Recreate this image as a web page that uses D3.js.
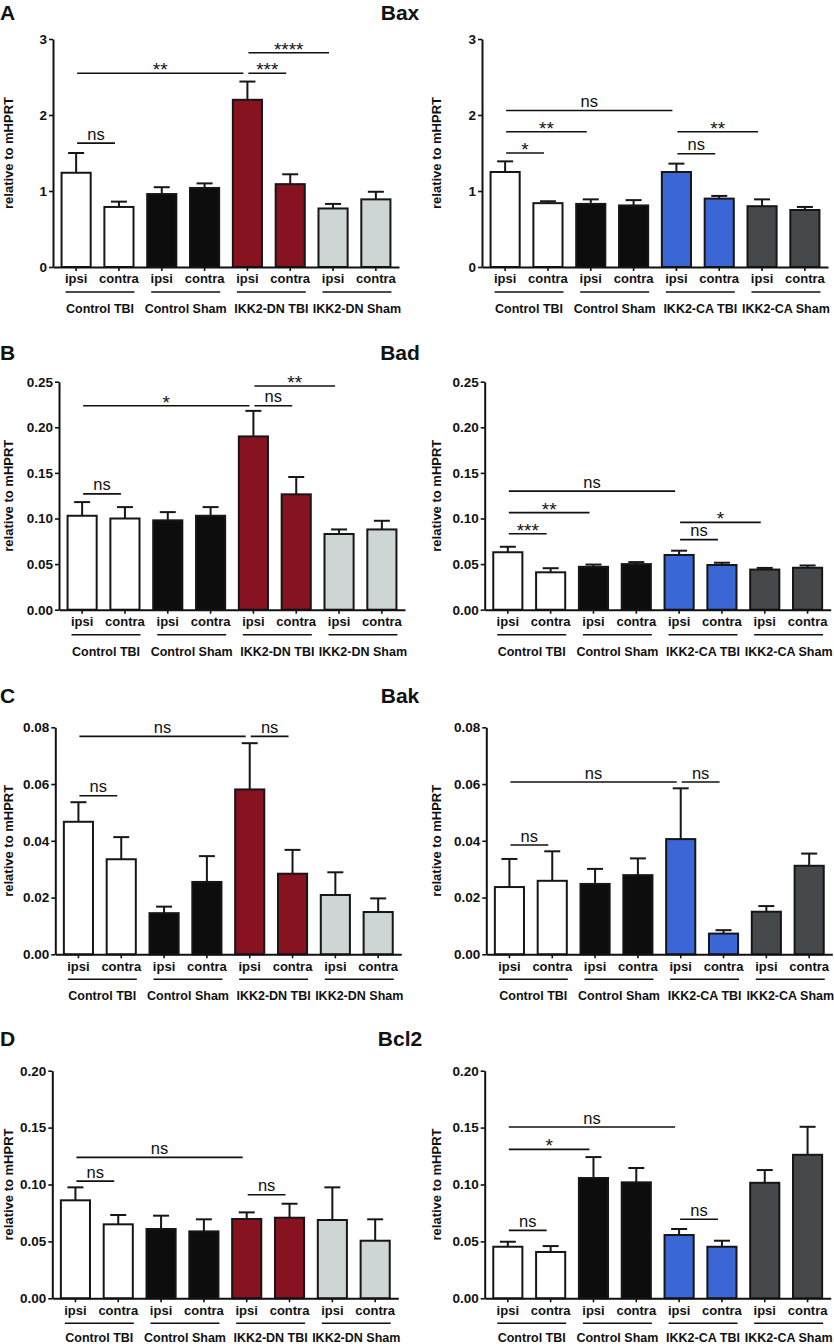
<!DOCTYPE html>
<html>
<head>
<meta charset="utf-8">
<script src="https://cdn.jsdelivr.net/npm/d3@7"></script>
<style>
	body { margin: 0; background: #fff; }
	svg { display: block; font-family: "Liberation Sans", Arial, sans-serif; }
</style>
</head>
<body>
<div id="chart"></div>
<script>
// categories
var conditions = ["ipsi", "contra"];
var groupsDN = ["Control TBI", "Control Sham", "IKK2-DN TBI", "IKK2-DN Sham"];
var groupsCA = ["Control TBI", "Control Sham", "IKK2-CA TBI", "IKK2-CA Sham"];
var colorsDN = ["#ffffff", "#0d0d0d", "#86131f", "#ced5d5"];
var colorsCA = ["#ffffff", "#0d0d0d", "#3b66d6", "#45494b"];

var genes = ["Bax", "Bad", "Bak", "Bcl2"];
var panelLetters = ["A", "B", "C", "D"];

// y axis ticks per gene
var baxTicks = [0, 1, 2, 3];
var badTicks = [0, 0.05, 0.10, 0.15, 0.20, 0.25];
var bakTicks = [0, 0.02, 0.04, 0.06, 0.08];
var bcl2Ticks = [0, 0.05, 0.10, 0.15, 0.20];

// means (order: ipsi, contra for each group) and SEM
var baxDN = [1.24, 0.79, 0.96, 1.04, 2.20, 1.09, 0.77, 0.89];
var baxDNErr = [0.26, 0.07, 0.09, 0.06, 0.24, 0.13, 0.06, 0.10];
var baxCA = [1.25, 0.84, 0.83, 0.81, 1.25, 0.90, 0.80, 0.75];
var baxCAErr = [0.14, 0.025, 0.06, 0.07, 0.11, 0.035, 0.09, 0.04];

var badDN = [0.103, 0.100, 0.098, 0.103, 0.190, 0.1265, 0.083, 0.088];
var badDNErr = [0.015, 0.0125, 0.009, 0.0095, 0.028, 0.019, 0.005, 0.0095];
var badCA = [0.063, 0.041, 0.047, 0.050, 0.060, 0.049, 0.044, 0.046];
var badCAErr = [0.006, 0.0045, 0.0025, 0.0022, 0.0047, 0.0025, 0.0018, 0.0025];

var bakDN = [0.0467, 0.0335, 0.0145, 0.0255, 0.0581, 0.0284, 0.0209, 0.0149];
var bakDNErr = [0.0069, 0.0078, 0.0023, 0.0091, 0.0163, 0.0084, 0.0080, 0.0048];
var bakCA = [0.0237, 0.0259, 0.0248, 0.0279, 0.0406, 0.0073, 0.0150, 0.0312];
var bakCAErr = [0.0099, 0.0104, 0.0053, 0.0059, 0.0179, 0.0012, 0.0020, 0.0043];

var bcl2DN = [0.0861, 0.0650, 0.0609, 0.0588, 0.0697, 0.0708, 0.0688, 0.0506];
var bcl2DNErr = [0.0114, 0.0082, 0.0117, 0.0106, 0.0058, 0.0123, 0.0287, 0.0188];
var bcl2CA = [0.0453, 0.0407, 0.1057, 0.1019, 0.0556, 0.0453, 0.1015, 0.1261];
var bcl2CAErr = [0.0044, 0.0052, 0.0184, 0.0126, 0.0053, 0.0053, 0.0112, 0.0246];

// significance bars: [from bar, to bar, label, height in data units]
var baxDNSig = [[0, 1, "ns", 1.63], [0, 4, "**", 2.55], [4, 5, "***", 2.55], [4, 6, "****", 2.82]];
var baxCASig = [[0, 4, "ns", 2.06], [0, 2, "**", 1.78], [0, 1, "*", 1.50], [4, 5, "ns", 1.49], [4, 6, "**", 1.78]];
var badDNSig = [[0, 1, "ns", 0.127], [0, 4, "*", 0.2237], [4, 5, "ns", 0.2237], [4, 6, "**", 0.2453]];
var badCASig = [[0, 4, "ns", 0.130], [0, 2, "**", 0.1064], [0, 1, "***", 0.0833], [4, 5, "ns", 0.0768], [4, 6, "*", 0.0958]];
var bakDNSig = [[0, 1, "ns", 0.0559], [0, 4, "ns", 0.0768], [4, 5, "ns", 0.0768]];
var bakCASig = [[0, 4, "ns", 0.0607], [4, 5, "ns", 0.0607], [0, 1, "ns", 0.0385]];
var bcl2DNSig = [[0, 1, "ns", 0.103], [0, 4, "ns", 0.1238], [4, 5, "ns", 0.091]];
var bcl2CASig = [[0, 4, "ns", 0.1505], [0, 2, "*", 0.1309], [0, 1, "ns", 0.0597], [4, 5, "ns", 0.0694]];

var width = 834, height = 1344;

/**
 * layout of the 4 x 2 grid
 **/
var rowTop = [39, 381.7, 727.3, 1070.7];
var rowZero = [267, 609.7, 954.3, 1298.3];
var titleBase = [20, 360, 703, 1046];
var axisLeftX = [[53, 482], [59, 484.7], [55.3, 486.3], [52.3, 484.7]];
var plotWidth = 346;

var svg = d3.select("#chart").append("svg")
	.attr("width", width)
	.attr("height", height);

function drawPanel(row, col, values, errs, ticks, fmt, groups, colors, sigs) {
	var ax = axisLeftX[row][col];
	var g = svg.append("g");

	var x = d3.scaleBand()
		.domain(d3.range(values.length))
		.range([ax, ax + plotWidth])
		.paddingInner(0.32)
		.paddingOuter(0.2);

	var y = d3.scaleLinear()
		.domain([0, ticks[ticks.length - 1]])
		.range([rowZero[row], rowTop[row]]);

	// y axis
	var yAxis = g.append("g")
		.attr("transform", "translate(" + ax + ",0)")
		.call(d3.axisLeft(y).tickValues(ticks).tickFormat(d3.format(fmt)).tickSize(4).tickSizeOuter(0).tickPadding(2));
	yAxis.selectAll("text").attr("font-size", 13.5).attr("font-weight", "bold").attr("fill", "#111");

	// y label
	var panelLeft = col === 0 ? 8 : 436;
	g.append("text")
		.attr("transform", "translate(" + panelLeft + "," + ((rowTop[row] + rowZero[row]) / 2) + ") rotate(-90)")
		.attr("text-anchor", "middle")
		.attr("dy", "0.35em")
		.attr("font-size", 13)
		.attr("font-weight", "bold")
		.attr("fill", "#111")
		.text("relative to mHPRT");

	// bars
	g.selectAll("rect.bar").data(values).enter().append("rect")
		.attr("class", "bar")
		.attr("x", function(d, i) { return x(i); })
		.attr("y", function(d) { return y(d); })
		.attr("width", x.bandwidth())
		.attr("height", function(d) { return y(0) - y(d); })
		.attr("fill", function(d, i) { return colors[Math.floor(i / 2)]; })
		.attr("stroke", "#161616")
		.attr("stroke-width", 2);

	// error bars (upper only)
	var cap = 8;
	values.forEach(function(v, i) {
		var cx = x(i) + x.bandwidth() / 2;
		g.append("line")
			.attr("x1", cx).attr("x2", cx)
			.attr("y1", y(v)).attr("y2", y(v + errs[i]))
			.attr("stroke", "#161616").attr("stroke-width", 2);
		g.append("line")
			.attr("x1", cx - cap).attr("x2", cx + cap)
			.attr("y1", y(v + errs[i])).attr("y2", y(v + errs[i]))
			.attr("stroke", "#161616").attr("stroke-width", 2);
	});

	// x axis with ipsi / contra labels
	var xAxis = g.append("g")
		.attr("transform", "translate(0," + rowZero[row] + ")")
		.call(d3.axisBottom(x).tickSize(4).tickSizeOuter(0).tickPadding(3)
			.tickFormat(function(i) { return conditions[i % 2]; }));
	xAxis.selectAll("text").attr("font-size", 13).attr("font-weight", "bold").attr("fill", "#111");

	g.selectAll(".domain").attr("stroke", "#111").attr("stroke-width", 2);
	g.selectAll(".tick line").attr("stroke", "#111").attr("stroke-width", 1.6);

	// group underlines and names
	var nameY = Math.min(rowZero[row] + 46, height - 2);
	groups.forEach(function(name, k) {
		var a = x(2 * k) + 4;
		var b = x(2 * k + 1) + x.bandwidth() + 1;
		g.append("line")
			.attr("x1", a).attr("x2", b)
			.attr("y1", rowZero[row] + 25).attr("y2", rowZero[row] + 25)
			.attr("stroke", "#111").attr("stroke-width", 1.6);
		g.append("text")
			.attr("x", (a + b) / 2)
			.attr("y", nameY)
			.attr("text-anchor", "middle")
			.attr("font-size", 12.5)
			.attr("font-weight", "bold")
			.attr("fill", "#111")
			.text(name);
	});

	// significance lines
	sigs.forEach(function(s) {
		var x1 = x(s[0]) + x.bandwidth() / 2 + 1;
		var x2 = x(s[1]) + x.bandwidth() / 2 - 4;
		var yy = y(s[3]);
		g.append("line")
			.attr("x1", x1).attr("x2", x2)
			.attr("y1", yy).attr("y2", yy)
			.attr("stroke", "#111").attr("stroke-width", 1.6);
		var isStars = s[2].indexOf("*") === 0;
		g.append("text")
			.attr("x", (x1 + x2) / 2)
			.attr("y", isStars ? yy + 3 : yy - 3.5)
			.attr("text-anchor", "middle")
			.attr("font-size", isStars ? 19 : 16.5)
			.attr("fill", "#111")
			.text(s[2]);
	});
}

var panelData = [
	[baxDN, baxDNErr, baxCA, baxCAErr, baxTicks, "d", baxDNSig, baxCASig],
	[badDN, badDNErr, badCA, badCAErr, badTicks, ".2f", badDNSig, badCASig],
	[bakDN, bakDNErr, bakCA, bakCAErr, bakTicks, ".2f", bakDNSig, bakCASig],
	[bcl2DN, bcl2DNErr, bcl2CA, bcl2CAErr, bcl2Ticks, ".2f", bcl2DNSig, bcl2CASig]
];

panelData.forEach(function(p, row) {
	svg.append("text")
		.attr("x", 0).attr("y", titleBase[row])
		.attr("font-size", 21).attr("font-weight", "bold").attr("fill", "#111")
		.text(panelLetters[row]);
	svg.append("text")
		.attr("x", 400).attr("y", titleBase[row])
		.attr("text-anchor", "middle")
		.attr("font-size", 21).attr("font-weight", "bold").attr("fill", "#111")
		.text(genes[row]);

	drawPanel(row, 0, p[0], p[1], p[4], p[5], groupsDN, colorsDN, p[6]);
	drawPanel(row, 1, p[2], p[3], p[4], p[5], groupsCA, colorsCA, p[7]);
});
</script>
</body>
</html>
